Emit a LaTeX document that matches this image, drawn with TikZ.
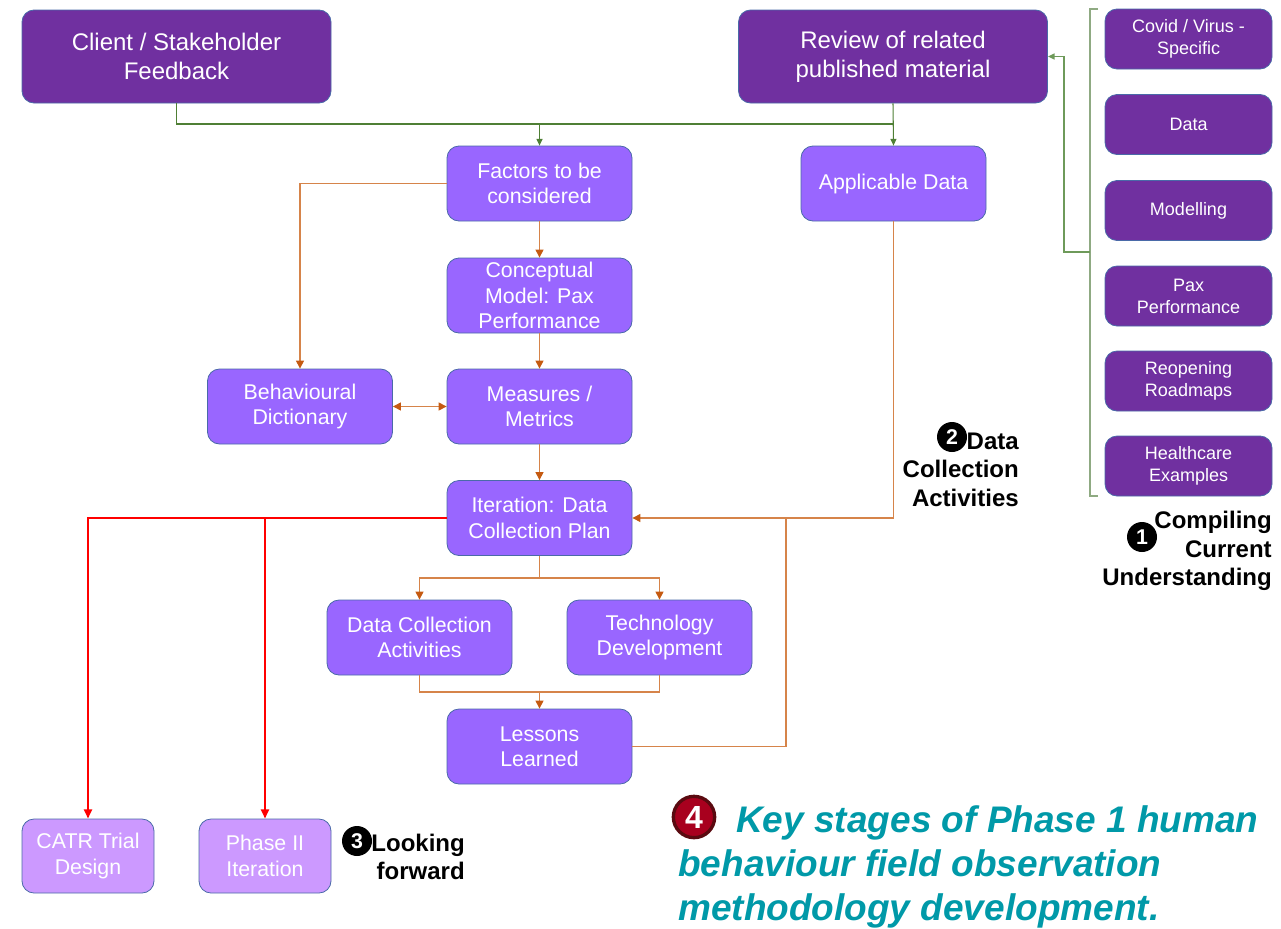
\documentclass[tikz,border=0pt]{standalone}
\usepackage{fontspec}
\setmainfont{Liberation Sans}
\usetikzlibrary{arrows.meta}
\definecolor{darkpurple}{HTML}{7030A0}
\definecolor{midpurple}{HTML}{9966FF}
\definecolor{lightpurple}{HTML}{CC99FF}
\definecolor{boxedge}{HTML}{4A6AA8}
\definecolor{flowgreen}{HTML}{4F7F35}
\definecolor{bracegreen}{HTML}{8FAA82}
\definecolor{linkgreen}{HTML}{6E9A5A}
\definecolor{flowline}{HTML}{D6844A}
\definecolor{flowtip}{HTML}{C55A11}
\definecolor{titleteal}{HTML}{0099A8}
\definecolor{badgered}{HTML}{A8001E}
\definecolor{badgeedge}{HTML}{5A0A10}
\begin{document}
\begin{tikzpicture}[x=0.75pt,y=-0.75pt,
  box/.style={rounded corners=9pt, draw=boxedge, line width=0.6pt, text=white, align=center, inner sep=0pt},
  bigbox/.style={box, fill=darkpurple, minimum width=231.75pt, minimum height=69.75pt, font=\fontsize{18}{21.75}\selectfont},
  midbox/.style={box, fill=midpurple, minimum width=138.75pt, minimum height=56.25pt, font=\fontsize{16}{19}\selectfont},
  smallbox/.style={box, fill=lightpurple, minimum width=99pt, minimum height=55.5pt, font=\fontsize{16}{19}\selectfont},
  sidebox/.style={box, fill=darkpurple, minimum width=125.25pt, minimum height=45pt, font=\fontsize{13.5}{16.5}\selectfont},
  greenflow/.style={draw=flowgreen, line width=0.8pt},
  greentip/.style={-{Triangle[length=5pt,width=4.5pt]}},
  orangeflow/.style={draw=flowline, line width=0.8pt},
  orangetip/.style={-{Triangle[length=6pt,width=6pt,color=flowtip]}},
  orangeboth/.style={{Triangle[length=6pt,width=6pt,color=flowtip]}-{Triangle[length=6pt,width=6pt,color=flowtip]}},
  redflow/.style={draw=red, line width=2.2pt, -{Triangle[length=7pt,width=6pt]}},
  numbadge/.style={circle, fill=black, text=white, inner sep=0pt, minimum size=22.5pt, font=\fontsize{16}{16}\selectfont\bfseries},
  steplabel/.style={align=right, font=\fontsize{18}{21.4}\selectfont\bfseries, inner sep=0pt}
]
\useasboundingbox (0,0) rectangle (1281,928);

% top sources
\node[bigbox] (client) at (176.5,56.5) {Client / Stakeholder\\Feedback};
\node[bigbox] (review) at (893,56.5) {Review of related\\published material};

% literature categories
\node[sidebox] (covid)   at (1188.5,39)    {Covid / Virus -\\Specific};
\node[sidebox] (data)    at (1188.5,124.5) {Data};
\node[sidebox] (model)   at (1188.5,210.5) {Modelling};
\node[sidebox] (pax)     at (1188.5,296)   {Pax\\Performance};
\node[sidebox] (reopen)  at (1188.5,381)   {Reopening\\Roadmaps};
\node[sidebox] (health)  at (1188.5,466)   {Healthcare\\Examples};

% main flow
\node[midbox] (factors)  at (539.5,183.5) {Factors to be\\considered};
\node[midbox] (appl)     at (893.5,183.5) {Applicable Data};
\node[midbox] (concept)  at (539.5,295.5) {Conceptual\\Model: Pax\\Performance};
\node[midbox] (behav)    at (300,406.5)   {Behavioural\\Dictionary};
\node[midbox] (measures) at (539.5,406.5) {Measures /\\Metrics};
\node[midbox] (iter)     at (539.5,518)   {Iteration: Data\\Collection Plan};
\node[midbox] (dca)      at (419.5,637.5) {Data Collection\\Activities};
\node[midbox] (tech)     at (659.5,637.5) {Technology\\Development};
\node[midbox] (lessons)  at (539.5,746.5) {Lessons\\Learned};

% outcomes
\node[smallbox] (catr)  at (88,856)  {CATR Trial\\Design};
\node[smallbox] (phase) at (265,856) {Phase II\\Iteration};

% brace grouping the categories
\coordinate (braceTop) at (1098,9);
\coordinate (braceBot) at (1098,496);
\coordinate (braceMid) at (1090,252);
\draw[draw=bracegreen, line width=1pt] (braceTop) -- (1090,9) -- (1090,496) -- (braceBot);
\draw[draw=linkgreen, line width=1pt, greentip] (braceMid) -- (1064,252) |- (review.east);

% green feed into the flow
\coordinate (gbus) at (893,124);
\draw[greenflow] (client.south) |- (gbus);
\draw[greenflow, greentip] (review.south) -- (appl.north);
\draw[greenflow, greentip] (factors.north |- gbus) -- (factors.north);

% orange flow
\draw[orangeflow, orangetip] (factors.west) -| (behav.north);
\draw[orangeflow, orangetip] (factors.south) -- (concept.north);
\draw[orangeflow, orangetip] (concept.south) -- (measures.north);
\draw[orangeflow, orangeboth] (behav.east) -- (measures.west);
\draw[orangeflow, orangetip] (measures.south) -- (iter.north);
\draw[orangeflow, orangetip] (appl.south) |- (iter.east);
\coordinate (split) at (539.5,578);
\draw[orangeflow] (iter.south) -- (split);
\draw[orangeflow, orangetip] (split) -| (dca.north);
\draw[orangeflow, orangetip] (split) -| (tech.north);
\coordinate (merge) at (539.5,692);
\draw[orangeflow] (dca.south) |- (merge) -| (tech.south);
\draw[orangeflow, orangetip] (merge) -- (lessons.north);
\coordinate (loop) at (786,518);
\draw[orangeflow] (lessons.east) -| (loop);

% red outcome links
\draw[redflow] (iter.west) -| (catr.north);
\draw[redflow] (iter.west -| phase.north) -- (phase.north);

% stage labels
\node[numbadge] (b1) at (1142,537) {1};
\node[steplabel, anchor=east] (l1) at (1272,551) {Compiling\\Current\\Understanding};
\node[numbadge] (b2) at (952,437) {2};
\node[steplabel, anchor=east] (l2) at (1019,469.5) {Data\\Collection\\Activities};
\node[numbadge] (b3) at (357,841) {3};
\node[steplabel, anchor=east] (l3) at (465,857) {Looking\\forward};

% caption
\node[circle, fill=badgered, draw=badgeedge, line width=2.5pt, minimum size=31pt, inner sep=0pt, text=white, font=\fontsize{24}{24}\selectfont\bfseries] (b4) at (694,817) {4};
\node[anchor=west, align=left, inner sep=0pt, text=titleteal, font=\fontsize{27.75}{33}\selectfont\bfseries\itshape] (caption) at (678,867) {\hspace*{43.5pt}Key stages of Phase 1 human\\behaviour field observation\\methodology development.};
\end{tikzpicture}
\end{document}
